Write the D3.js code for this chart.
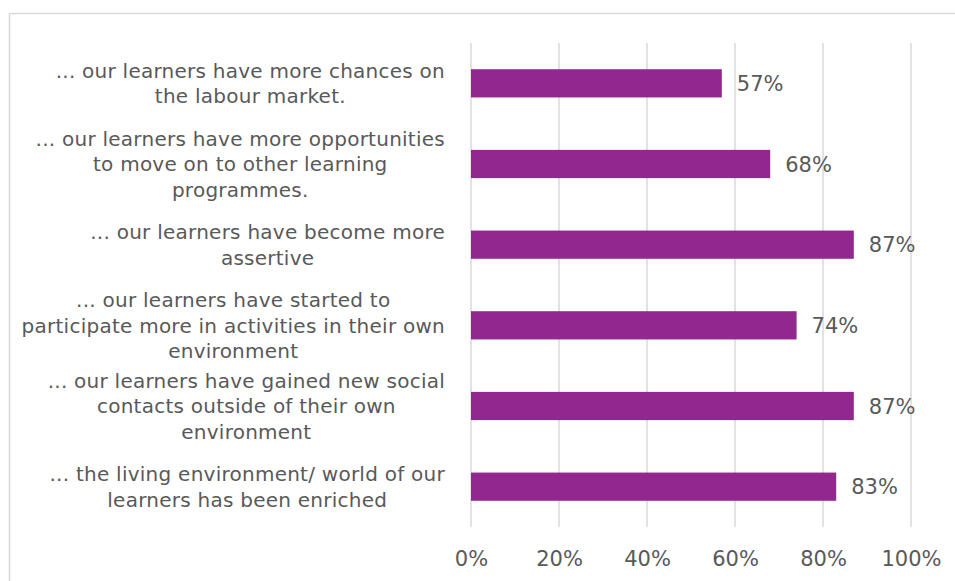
<!DOCTYPE html>
<html>
<head>
<meta charset="utf-8">
<script src="https://cdn.jsdelivr.net/npm/d3@7"></script>
<style>
  html, body { margin: 0; padding: 0; background: #fff; }
  svg { display: block; }
  text { font-family: "Century Gothic", "DejaVu Sans", sans-serif; fill: #595959; }
</style>
</head>
<body>
<svg id="chart" width="955" height="581"></svg>
<script>
// Survey statements (each entry is a list of wrapped lines), top to bottom
const categories = [
  ["... our learners have more chances on", "the labour market."],
  ["... our learners have more opportunities", "to move on to other learning", "programmes."],
  ["... our learners have become more", "assertive"],
  ["... our learners have started to", "participate more in activities in their own", "environment"],
  ["... our learners have gained new social", "contacts outside of their own", "environment"],
  ["... the living environment/ world of our", "learners has been enriched"]
];
// Share of respondents agreeing (%)
const values = [57, 68, 87, 74, 87, 83];
// Axis ticks (%)
const ticks = [0, 20, 40, 60, 80, 100];

const svg = d3.select("#chart");

// Chart frame
svg.append("rect")
  .attr("x", 9.5).attr("y", 13.5)
  .attr("width", 1000).attr("height", 1000)
  .attr("fill", "none")
  .attr("stroke", "#d9d9d9")
  .attr("stroke-width", 1.5);

const plotTop = 43, plotBottom = 527;
const x = d3.scaleLinear().domain([0, 100]).range([471, 911]);
const y = d3.scaleBand()
  .domain(d3.range(values.length))
  .range([plotTop, plotBottom])
  .paddingInner(0.65)
  .paddingOuter(0.325);

// Vertical gridlines
svg.append("g")
  .selectAll("line")
  .data(ticks)
  .join("line")
  .attr("x1", d => x(d)).attr("x2", d => x(d))
  .attr("y1", plotTop).attr("y2", plotBottom)
  .attr("stroke", "#d9d9d9")
  .attr("stroke-width", 1.5);

// Bars
svg.append("g")
  .selectAll("rect")
  .data(values)
  .join("rect")
  .attr("x", x(0))
  .attr("y", (d, i) => y(i))
  .attr("width", d => x(d) - x(0))
  .attr("height", y.bandwidth())
  .attr("fill", "#92278f");

// Value labels
svg.append("g")
  .selectAll("text")
  .data(values)
  .join("text")
  .attr("x", d => x(d) + 15)
  .attr("y", (d, i) => y(i) + y.bandwidth() / 2)
  .attr("dy", "0.36em")
  .attr("font-size", 21)
  .text(d => d + "%");

// Bottom axis labels
const axis = d3.axisBottom(x)
  .tickValues(ticks)
  .tickFormat(d => d + "%")
  .tickSize(0)
  .tickPadding(0);
const gAxis = svg.append("g")
  .attr("transform", `translate(0,${plotBottom + 24})`)
  .call(axis);
gAxis.select(".domain").remove();
gAxis.selectAll("text")
  .attr("font-size", 21)
  .attr("font-family", null)
  .attr("fill", null)
  .attr("dy", "0.71em");

// Category labels: each block of wrapped lines is centred on itself,
// with its widest line ending at a fixed right edge next to the plot
const lineH = 25.5;
const labelRight = 445;
const cat = svg.append("g")
  .selectAll("text")
  .data(categories)
  .join("text")
  .attr("text-anchor", "middle")
  .attr("font-size", 20)
  .attr("letter-spacing", 0.25);
cat.each(function (lines, i) {
  const cy = y(i) + y.bandwidth() / 2;
  const startY = cy - (lines.length - 1) * lineH / 2;
  const spans = d3.select(this).selectAll("tspan")
    .data(lines)
    .join("tspan")
    .attr("y", (l, j) => startY + j * lineH)
    .attr("dy", "0.36em")
    .text(l => l);
  const maxW = d3.max(spans.nodes(), n => n.getComputedTextLength());
  spans.attr("x", labelRight - maxW / 2);
});
</script>
</body>
</html>
